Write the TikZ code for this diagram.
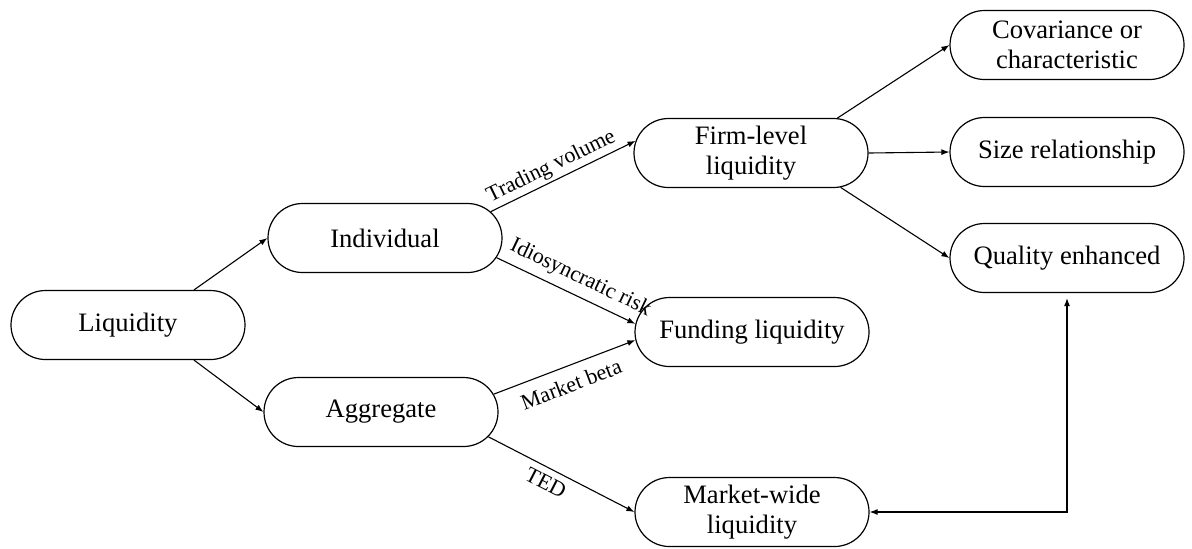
\documentclass[tikz,border=0pt]{standalone}
\usepackage{fontspec}
\setmainfont{Liberation Serif}
\usetikzlibrary{shapes.misc,arrows.meta,positioning}
\tikzset{
flow_item/.style={rounded rectangle, draw, line width=0.6pt, fill=white, minimum width=121pt, minimum height=34.5pt, align=center, inner sep=2pt, font=\fontsize{13.3}{15}\selectfont},
flow_arrow/.style={-{Latex[length=4pt,width=3pt]}, line width=0.55pt},
edge_label/.style={sloped, inner sep=1.5pt, font=\fontsize{11}{12}\selectfont}
}
\begin{document}
\begin{tikzpicture}[x=0.5pt,y=-0.5pt]
    \useasboundingbox (0,0) rectangle (1192,548);
    \node[flow_item] (liq) at (128,325) {Liquidity};
    \node[flow_item] (ind) at (385,238) {Individual};
    \node[flow_item] (agg) at (381,412) {Aggregate};
    \node[flow_item] (firm) at (751,153) {Firm-level\\liquidity};
    \node[flow_item] (fund) at (752,332) {Funding liquidity};
    \node[flow_item] (mw) at (752,512) {Market-wide\\liquidity};
    \node[flow_item] (cov) at (1067,45) {Covariance or\\characteristic};
    \node[flow_item] (size) at (1067,152) {Size relationship};
    \node[flow_item] (qual) at (1067,258) {Quality enhanced};
    \draw[flow_arrow] (liq.28) -- (ind.west);
    \draw[flow_arrow] (liq.-28) -- (agg.west);
    \draw[flow_arrow] (ind.14) -- (firm.174) node[edge_label, pos=0.46, above] {Trading volume};
    \draw[flow_arrow] (ind.-10) -- (fund.176) node[edge_label, pos=0.55, above=2pt] {Idiosyncratic risk};
    \draw[flow_arrow] (agg.9) -- (fund.184) node[edge_label, pos=0.5, below=3.5pt] {Market beta};
    \draw[flow_arrow] (agg.-13) -- (mw.west) node[edge_label, pos=0.44, below=2pt] {TED};
    \draw[flow_arrow] (firm.22) -- (cov.west);
    \draw[flow_arrow] (firm.east) -- (size.west);
    \draw[flow_arrow] (firm.-21) -- (qual.west);
    \draw[{Latex[length=4pt,width=3pt]}-{Latex[length=4pt,width=3pt]}, line width=0.55pt] (mw.east) -| ([yshift=-2.5pt]qual.south);
\end{tikzpicture}
\end{document}
